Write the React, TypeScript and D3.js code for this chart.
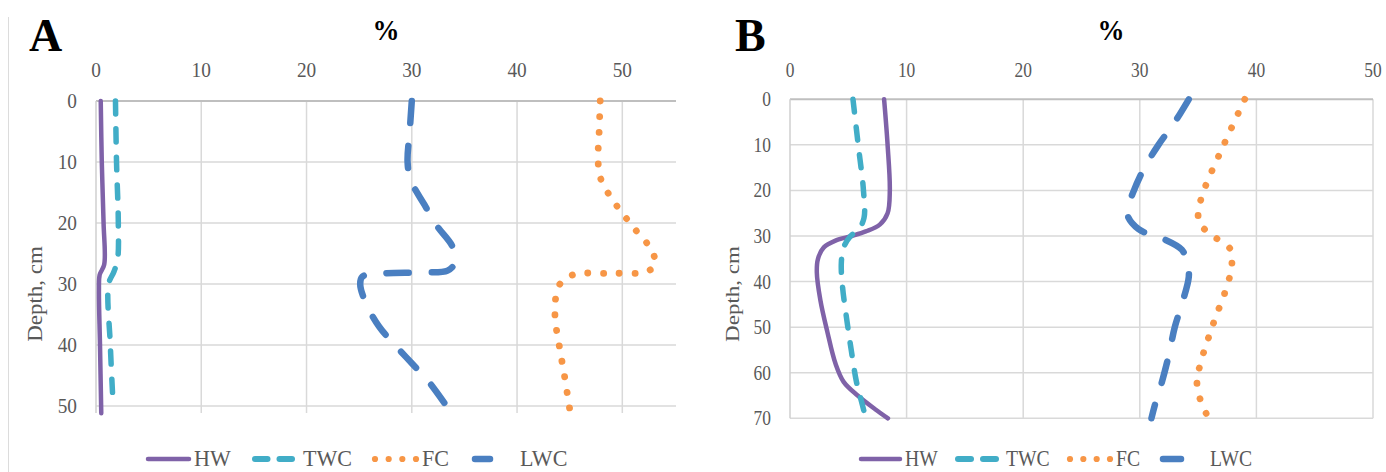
import React from 'react';
import * as d3 from 'd3';

// axis ticks
const pctTicks = [0, 10, 20, 30, 40, 50];
const depthTicksA = [0, 10, 20, 30, 40, 50];
const depthTicksB = [0, 10, 20, 30, 40, 50, 60, 70];
const seriesNames = ['HW', 'TWC', 'FC', 'LWC'];

// [depth (cm), value (%)]
const hwA: [number, number][] = [[0, 0.45], [10, 0.55], [20, 0.72], [26.8, 0.78], [28.5, 0.35], [31, 0.28], [40, 0.38], [51.2, 0.5]];
const twcA: [number, number][] = [[0, 1.85], [10, 1.95], [20, 2.12], [26, 2.05], [28, 1.7], [30, 1.2], [40, 1.36], [49.5, 1.62]];
const fcA: [number, number][] = [[0, 47.9], [5, 47.8], [10, 47.7], [13, 48], [17, 49.4], [21, 51.2], [24.5, 52.8], [26.8, 53.1], [28, 52.3], [28.25, 49], [28.5, 45.3], [30.2, 44], [35, 43.6], [40, 44], [45, 44.5], [50.5, 45]];
const lwcA: [number, number][] = [[0, 30.0], [5, 29.8], [10, 29.6], [13, 29.9], [17, 31.2], [20.5, 32.4], [24, 33.9], [26.5, 34.1], [27.8, 33.4], [28.1, 31], [28.3, 27], [28.8, 25.3], [30, 25.1], [33, 25.6], [37, 26.9], [40, 28.4], [43, 30.0], [46, 31.6], [50, 33.3]];

const hwB: [number, number][] = [[0, 8.07], [10, 8.37], [20, 8.56], [25, 8.37], [27.5, 7.7], [29, 6.5], [30, 5.3], [31, 3.9], [32.5, 2.9], [35, 2.4], [38, 2.3], [44, 2.6], [51, 3.2], [58, 3.9], [62, 4.6], [65, 5.8], [68, 7.3], [70, 8.4]];
const twcB: [number, number][] = [[0, 5.4], [10, 5.85], [20, 6.3], [26, 6.35], [28.5, 5.9], [30, 5.2], [32.5, 4.6], [36, 4.4], [41, 4.5], [48, 4.85], [55, 5.25], [62, 5.7], [66, 6.1], [69.5, 6.45]];
const fcB: [number, number][] = [[0, 39.0], [10, 37.2], [20, 35.5], [25, 35.0], [27.5, 35.2], [30, 36.3], [33, 37.8], [36, 37.9], [40, 37.6], [50, 36.2], [58, 35.2], [62, 34.9], [66, 35.2], [69.5, 35.8]];
const lwcB: [number, number][] = [[0, 34.2], [5, 33.0], [10, 31.6], [15, 30.4], [20, 29.5], [25, 28.9], [28.5, 29.9], [30.5, 31.9], [33, 33.6], [36, 34.1], [39, 34.2], [45, 33.6], [50, 33.0], [56, 32.5], [62, 31.9], [67, 31.3], [70, 31.0]];

const font = "'Liberation Serif', 'Times New Roman', serif";
const tickColor = '#595959';

const styles: Record<string, { color: string; width: number; dash?: string }> = {
  HW: { color: '#7f62a8', width: 4.5 },
  TWC: { color: '#41adc7', width: 5.5, dash: '13 15' },
  FC: { color: '#f79646', width: 6.8, dash: '0.1 15.6' },
  LWC: { color: '#4a7fc1', width: 6.5, dash: '22 23' },
};

type Panel = {
  label: string;
  series: Record<string, [number, number][]>;
  depthTicks: number[];
  xMax: number;
  yMax: number;
  left: number; right: number; top: number; bottom: number;
  sx: number; // horizontal squeeze of the text
  legendSx: number;
  legend: { line: [number, number]; text: number }[];
  title: { x: number; pct: number };
  depthLabelX: number;
};

const panels: Panel[] = [
  {
    label: 'A',
    series: { HW: hwA, TWC: twcA, FC: fcA, LWC: lwcA },
    depthTicks: depthTicksA,
    xMax: 55.1, yMax: 51.15,
    left: 96, right: 676, top: 101, bottom: 413,
    sx: 0.92, legendSx: 0.92,
    legend: [
      { line: [145, 192], text: 194 },
      { line: [252, 295], text: 303 },
      { line: [375, 416], text: 422 },
      { line: [472, 493], text: 520 },
    ],
    title: { x: 29, pct: 386 },
    depthLabelX: 35,
  },
  {
    label: 'B',
    series: { HW: hwB, TWC: twcB, FC: fcB, LWC: lwcB },
    depthTicks: depthTicksB,
    xMax: 50, yMax: 70,
    left: 790, right: 1373, top: 99.3, bottom: 418.3,
    sx: 0.83, legendSx: 0.82,
    legend: [
      { line: [858, 903], text: 905 },
      { line: [955, 999], text: 1006 },
      { line: [1070, 1110], text: 1116 },
      { line: [1160, 1184], text: 1210 },
    ],
    title: { x: 735, pct: 1111 },
    depthLabelX: 732,
  },
];

const LegendSymbol = ({ name, x0, x1, y }: { name: string; x0: number; x1: number; y: number }) => {
  const s = styles[name];
  if (name === 'TWC') {
    const mid = (x0 + x1) / 2;
    return (
      <g stroke={s.color} strokeWidth={s.width + 0.5} strokeLinecap="round">
        <line x1={x0 + 3} x2={mid - 6} y1={y} y2={y} />
        <line x1={mid + 6} x2={x1 - 3} y1={y} y2={y} />
      </g>
    );
  }
  if (name === 'FC') {
    const n = 4;
    return (
      <g fill={s.color}>
        {d3.range(n).map(i => (
          <circle key={i} cx={x0 + ((x1 - x0) * i) / (n - 1)} cy={y} r={3.1} />
        ))}
      </g>
    );
  }
  return <line x1={x0 + 3} x2={x1 - 3} y1={y} y2={y} stroke={s.color} strokeWidth={s.width} strokeLinecap="round" />;
};

const ChartPanel = ({ p }: { p: Panel }) => {
  const x = d3.scaleLinear().domain([0, p.xMax]).range([p.left, p.right]);
  const y = d3.scaleLinear().domain([0, p.yMax]).range([p.top, p.bottom]);
  const line = d3.line<[number, number]>()
    .x(d => x(d[1]))
    .y(d => y(d[0]))
    .curve(d3.curveCatmullRom.alpha(0.5));

  const legendY = 459;
  return (
    <g>
      {/* grid */}
      {pctTicks.filter(t => t > 0).map(t => (
        <line key={'v' + t} x1={x(t)} x2={x(t)} y1={p.top} y2={p.bottom} stroke="#d9d9d9" strokeWidth={1.5} />
      ))}
      {p.depthTicks.filter(t => t > 0).map(t => (
        <line key={'h' + t} x1={p.left} x2={p.right} y1={y(t)} y2={y(t)} stroke="#d9d9d9" strokeWidth={1.5} />
      ))}
      <line x1={p.left} x2={p.right} y1={p.top} y2={p.top} stroke="#bfbfbf" strokeWidth={2} />
      <line x1={p.left} x2={p.left} y1={p.top} y2={p.bottom} stroke="#cfcfcf" strokeWidth={1.5} />

      {/* series */}
      {seriesNames.map(n => {
        const s = styles[n];
        return (
          <path key={n} d={line(p.series[n]) || ''} fill="none" stroke={s.color} strokeWidth={s.width}
            strokeDasharray={s.dash} strokeLinecap="round" strokeLinejoin="round" />
        );
      })}

      {/* tick labels */}
      {pctTicks.map(t => (
        <text key={'xt' + t} transform={`translate(${x(t)},77) scale(${p.sx},1)`} textAnchor="middle"
          fontFamily={font} fontSize={21} fill={tickColor}>{t}</text>
      ))}
      {p.depthTicks.map(t => (
        <text key={'yt' + t} transform={`translate(${p.left - 19},${y(t) + 7}) scale(${p.sx},1)`} textAnchor="end"
          fontFamily={font} fontSize={21} fill={tickColor}>{t}</text>
      ))}
      <text transform={`translate(${p.depthLabelX + 7},294) rotate(-90) scale(1,${p.sx})`} textAnchor="middle"
        fontFamily={font} fontSize={23} fill={tickColor}>Depth,  cm</text>

      {/* titles */}
      <text x={p.title.x} y={51} fontFamily={font} fontSize={46} fontWeight="bold" fill="#000">{p.label}</text>
      <text transform={`translate(${p.title.pct},40) scale(0.9,1)`} textAnchor="middle" fontFamily={font}
        fontSize={30} fontWeight="bold" fill="#000">%</text>

      {/* legend */}
      {seriesNames.map((n, i) => {
        const L = p.legend[i];
        return (
          <g key={'lg' + n}>
            <LegendSymbol name={n} x0={L.line[0]} x1={L.line[1]} y={legendY} />
            <text transform={`translate(${L.text},466) scale(${p.legendSx},1)`} fontFamily={font} fontSize={24}
              fill={tickColor}>{n}</text>
          </g>
        );
      })}
    </g>
  );
};

export default function App() {
  return (
    <svg width={1386} height={472} style={{ position: 'absolute', left: 0, top: 0, background: '#fff' }}>
      <rect width={1386} height={472} fill="#fff" />
      <line x1={8.5} x2={8.5} y1={17} y2={472} stroke="#dcdcdc" strokeWidth={1} />
      {panels.map(p => <ChartPanel key={p.label} p={p} />)}
    </svg>
  );
}
